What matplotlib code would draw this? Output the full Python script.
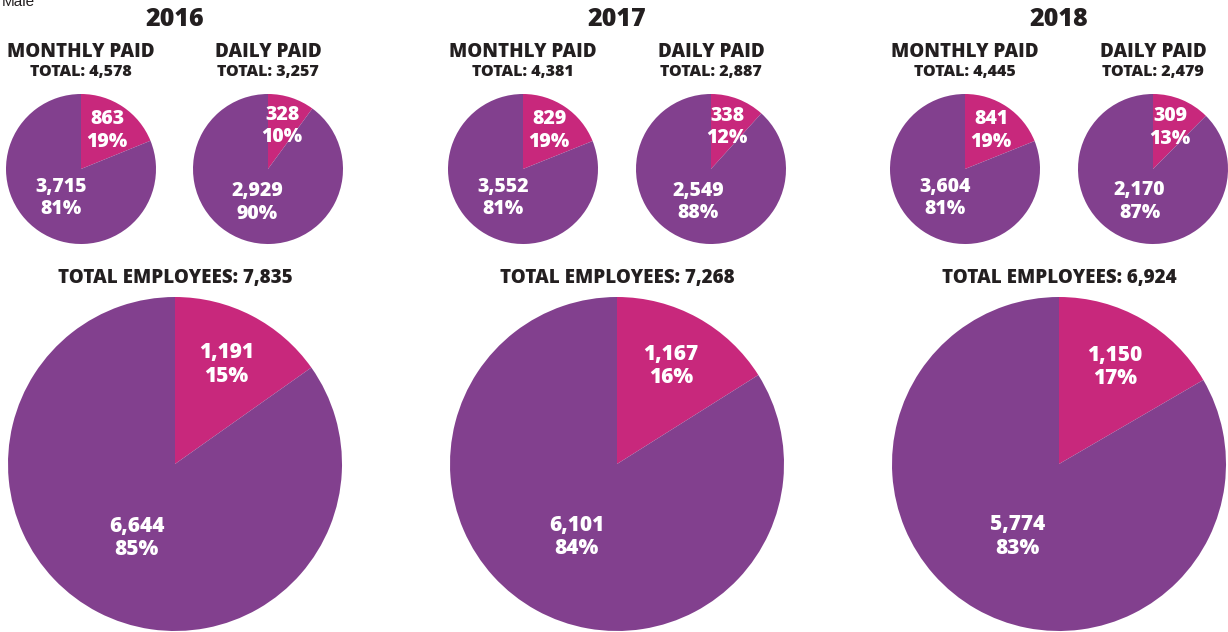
import numpy as np
import matplotlib
matplotlib.use("Agg")
import matplotlib.pyplot as plt

# data
years = ["2016", "2017", "2018"]
monthly_female = [863, 829, 841]
monthly_male = [3715, 3552, 3604]
monthly_pct = [("19%", "81%"), ("19%", "81%"), ("19%", "81%")]
daily_female = [328, 338, 309]
daily_male = [2929, 2549, 2170]
daily_pct = [("10%", "90%"), ("12%", "88%"), ("13%", "87%")]
total_female = [1191, 1167, 1150]
total_male = [6644, 6101, 5774]
total_pct = [("15%", "85%"), ("16%", "84%"), ("17%", "83%")]

PINK = "#C8287C"
PURPLE = "#82408E"
DARK = "#231F20"
HEAVY = 800

W, H = 1228, 632
fig = plt.figure(figsize=(W / 100, H / 100), dpi=100)
plt.rcParams['font.family'] = ['Open Sans', 'DejaVu Sans']


def px(x, y):
    return x / W, 1 - y / H


def draw_pie(cx, cy, r, female, male, pcts, fs, dpink, dpurple):
    ax = fig.add_axes([(cx - r) / W, 1 - (cy + r) / H, 2 * r / W, 2 * r / H])
    ax.pie([female, male], colors=[PINK, PURPLE], startangle=90,
           counterclock=False, radius=1,
           wedgeprops=dict(linewidth=0, edgecolor="none"))
    ax.set_xlim(-1, 1)
    ax.set_ylim(-1, 1)
    ax.set_aspect("equal")
    ax.axis("off")
    tot = female + male
    # mid angles (clockwise from top)
    a1 = np.pi * female / tot
    a2 = 2 * np.pi * female / tot + np.pi * male / tot
    for ang, d, val, p in [(a1, dpink, female, pcts[0]), (a2, dpurple, male, pcts[1])]:
        ax.text(d * np.sin(ang), d * np.cos(ang), f"{val:,}\n{p}", ha="center",
                va="center", color="white", fontsize=fs, fontweight=HEAVY,
                linespacing=1.15)


small_r = 75
big_r = 167
centers = [(81, 268, 175), (523, 711, 617), (965, 1153, 1059)]

for i, yr in enumerate(years):
    cm, cd, cb = centers[i]
    fig.text(*px(cb, 19), yr, ha="center", va="center", fontsize=18,
             fontweight=HEAVY, color=DARK)
    fig.text(*px(cm, 52), "MONTHLY PAID", ha="center", va="center",
             fontsize=13.5, fontweight=HEAVY, color=DARK)
    fig.text(*px(cm, 72), f"TOTAL: {monthly_female[i] + monthly_male[i]:,}",
             ha="center", va="center", fontsize=11.5, fontweight=HEAVY, color=DARK)
    fig.text(*px(cd, 52), "DAILY PAID", ha="center", va="center",
             fontsize=13.5, fontweight=HEAVY, color=DARK)
    fig.text(*px(cd, 72), f"TOTAL: {daily_female[i] + daily_male[i]:,}",
             ha="center", va="center", fontsize=11.5, fontweight=HEAVY, color=DARK)
    fig.text(*px(cb, 278), f"TOTAL EMPLOYEES: {total_female[i] + total_male[i]:,}",
             ha="center", va="center", fontsize=13.5, fontweight=HEAVY, color=DARK)

    draw_pie(cm, 169, small_r, monthly_female[i], monthly_male[i], monthly_pct[i],
             14, 0.62, 0.47)
    draw_pie(cd, 169, small_r, daily_female[i], daily_male[i], daily_pct[i],
             14, 0.6, 0.47)
    draw_pie(cb, 464, big_r, total_female[i], total_male[i], total_pct[i],
             15, 0.67, 0.5)

fig.text(2 / W, 1 - 6 / H, "Male", ha="left", va="baseline", fontsize=11,
         color=DARK, family=["Liberation Sans", "DejaVu Sans"])

fig.savefig("out.png", dpi=100, facecolor="white")
